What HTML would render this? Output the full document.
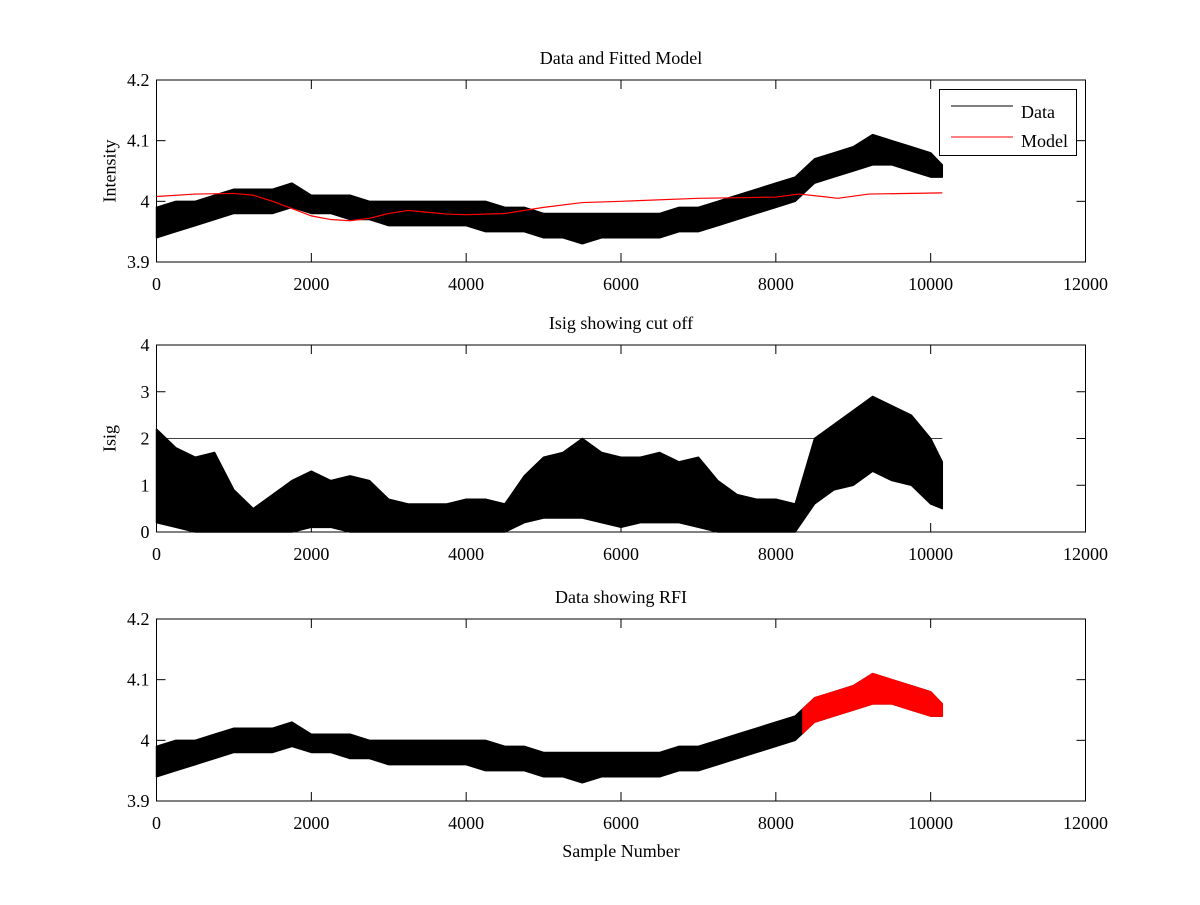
<!DOCTYPE html>
<html><head><meta charset="utf-8"><style>
body{margin:0;background:#fff;}
svg text{font-family:"Liberation Serif",serif;font-size:18px;fill:#000;}
</style></head><body>
<svg id="fig" width="1200" height="900" xmlns="http://www.w3.org/2000/svg"></svg>
<script>
// ---- data ----
const sampleX = [0,250,500,750,1000,1250,1500,1750,2000,2250,2500,2750,3000,3250,3500,3750,4000,4250,4500,4750,5000,5250,5500,5750,6000,6250,6500,6750,7000,7250,7500,7750,8000,8250,8500,8750,9000,9250,9500,9750,10000,10150];
const dataLo = [3.94,3.95,3.96,3.97,3.98,3.98,3.98,3.99,3.98,3.98,3.97,3.97,3.96,3.96,3.96,3.96,3.96,3.95,3.95,3.95,3.94,3.94,3.93,3.94,3.94,3.94,3.94,3.95,3.95,3.96,3.97,3.98,3.99,4.00,4.03,4.04,4.05,4.06,4.06,4.05,4.04,4.04];
const dataHi = [3.99,4.00,4.00,4.01,4.02,4.02,4.02,4.03,4.01,4.01,4.01,4.00,4.00,4.00,4.00,4.00,4.00,4.00,3.99,3.99,3.98,3.98,3.98,3.98,3.98,3.98,3.98,3.99,3.99,4.00,4.01,4.02,4.03,4.04,4.07,4.08,4.09,4.11,4.10,4.09,4.08,4.06];
const modelX = [0,500,1000,1250,1500,1750,2000,2250,2500,2750,3000,3250,3500,3750,4000,4500,5000,5500,6000,7000,8000,8300,8600,8800,9200,10150];
const modelY = [4.008,4.012,4.013,4.010,4.000,3.988,3.976,3.970,3.968,3.972,3.980,3.985,3.982,3.979,3.978,3.980,3.990,3.998,4.000,4.005,4.007,4.012,4.008,4.005,4.012,4.014];
const isigLo = [0.2,0.1,0,0,0,0,0,0,0.1,0.1,0,0,0,0,0,0,0,0,0,0.2,0.3,0.3,0.3,0.2,0.1,0.2,0.2,0.2,0.1,0,0,0,0,0,0.6,0.9,1.0,1.3,1.1,1.0,0.6,0.5];
const isigHi = [2.2,1.8,1.6,1.7,0.9,0.5,0.8,1.1,1.3,1.1,1.2,1.1,0.7,0.6,0.6,0.6,0.7,0.7,0.6,1.2,1.6,1.7,2.0,1.7,1.6,1.6,1.7,1.5,1.6,1.1,0.8,0.7,0.7,0.6,2.0,2.3,2.6,2.9,2.7,2.5,2.0,1.5];
const cutoff = 2;
const rfiStart = 8350;
const xTicks = [0,2000,4000,6000,8000,10000,12000];
const yTicks1 = [3.9,4,4.1,4.2];
const yTicks2 = [0,1,2,3,4];
// ---- drawing ----
const NS="http://www.w3.org/2000/svg", svg=document.getElementById('fig');
function el(tag,attrs,parent){const e=document.createElementNS(NS,tag);for(const k in attrs)e.setAttribute(k,attrs[k]);(parent||svg).appendChild(e);return e;}
const X0=156.5,X1=1085.5;
const sx=v=>X0+(v-0)/12000*(X1-X0);
function makeAx(top,bot,ymin,ymax){return v=>bot-(v-ymin)/(ymax-ymin)*(bot-top);}
function band(g,sy,xs,lo,hi,color,name,from){
  let up=[],dn=[];
  for(let i=0;i<xs.length;i++){let x=xs[i];if(from!==undefined&&x<from)continue;up.push(sx(x)+','+sy(hi[i]));dn.unshift(sx(x)+','+sy(lo[i]));}
  if(from!==undefined){
    let i=xs.findIndex(v=>v>=from);let t=(from-xs[i-1])/(xs[i]-xs[i-1]);
    let l=lo[i-1]+t*(lo[i]-lo[i-1]),h=hi[i-1]+t*(hi[i]-hi[i-1]);
    up.unshift(sx(from)+','+sy(h));dn.push(sx(from)+','+sy(l));}
  const p=el('polygon',{points:up.concat(dn).join(' '),fill:color,stroke:color,'stroke-width':1.5,'stroke-linejoin':'round'},g);
  
  
}
function axes(top,bot,ymin,ymax,yt,title,ylabel,name){
  const g=el('g',{});
  
  
  const sy=makeAx(top,bot,ymin,ymax);
  el('rect',{x:X0,y:top,width:X1-X0,height:bot-top,fill:'none',stroke:'#000','stroke-width':1},g);
  xTicks.forEach(t=>{const x=sx(t);
    el('line',{x1:x,x2:x,y1:bot,y2:bot-9,stroke:'#000'},g);el('line',{x1:x,x2:x,y1:top,y2:top+9,stroke:'#000'},g);
    const tx=el('text',{x:x,y:bot+28,'text-anchor':'middle'},g);tx.textContent=t;
    
    });
  yt.forEach(t=>{const y=sy(t);
    el('line',{x1:X0,x2:X0+9,y1:y,y2:y,stroke:'#000'},g);el('line',{x1:X1,x2:X1-9,y1:y,y2:y,stroke:'#000'},g);
    const tx=el('text',{x:X0-7,y:y+6,'text-anchor':'end'},g);tx.textContent=t;
    
    });
  const tt=el('text',{x:621,y:top-16,'text-anchor':'middle'},g);tt.textContent=title;
  
  
  const yl=el('text',{x:0,y:0,'text-anchor':'middle',transform:`translate(${X0-41},${(top+bot)/2}) rotate(-90)`},g);yl.textContent=ylabel;
  
  
  return {g,sy};
}
// plot 1
let a=axes(80,262,3.9,4.2,yTicks1,'Data and Fitted Model','Intensity','top-plot');
band(a.g,a.sy,sampleX,dataLo,dataHi,'#000','data-series');
const ml=el('polyline',{points:modelX.map((x,i)=>sx(x)+','+a.sy(modelY[i])).join(' '),fill:'none',stroke:'#f00','stroke-width':1.2},a.g);


const lg=el('g',{},a.g);


el('rect',{x:939.5,y:89.5,width:137,height:66,fill:'#fff',stroke:'#000'},lg);
el('line',{x1:951,x2:1013,y1:106,y2:106,stroke:'#000'},lg);
el('line',{x1:951,x2:1013,y1:137,y2:137,stroke:'#f00'},lg);
let t1=el('text',{x:1021,y:118},lg);t1.textContent='Data';


let t2=el('text',{x:1021,y:147},lg);t2.textContent='Model';


// plot 2
let b=axes(345,532,0,4,yTicks2,'Isig showing cut off','Isig','middle-plot');
band(b.g,b.sy,sampleX,isigLo,isigHi,'#000','isig-series');
const cl=el('line',{x1:sx(0),x2:sx(sampleX[sampleX.length-1]),y1:b.sy(cutoff),y2:b.sy(cutoff),stroke:'#000','stroke-width':0.8},b.g);


// plot 3
let c=axes(619,801,3.9,4.2,yTicks1,'Data showing RFI','','bottom-plot');
band(c.g,c.sy,sampleX,dataLo,dataHi,'#000','data-series');
band(c.g,c.sy,sampleX,dataLo,dataHi,'#f00','rfi-points',rfiStart);
const xl=el('text',{x:621,y:857,'text-anchor':'middle'});xl.textContent='Sample Number';


</script>
</body></html>
